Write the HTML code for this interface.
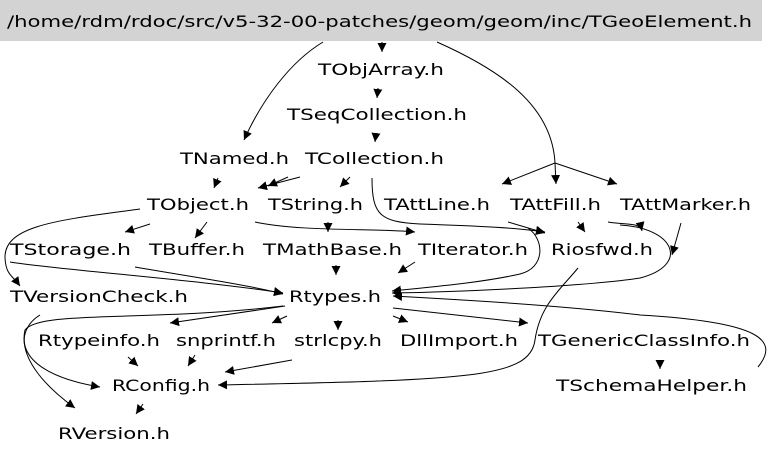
<!DOCTYPE html>
<html><head><meta charset="utf-8"><style>
html,body{margin:0;padding:0;background:#fff;}
svg{display:block;}
text{font-family:"DejaVu Sans","Liberation Sans",sans-serif;font-size:16px;fill:#000;}
path,line{fill:none;stroke:#000;stroke-width:1;}
</style></head><body>
<svg width="768" height="455" viewBox="0 0 768 455" xmlns="http://www.w3.org/2000/svg">
<defs><marker id="a" viewBox="0 0 10 10" refX="10" refY="5" markerWidth="9" markerHeight="9" markerUnits="userSpaceOnUse" orient="auto"><path d="M0,0 L10,5 L0,10 z" style="fill:#000;stroke:none"/></marker></defs>
<rect x="0" y="0" width="762" height="41" fill="#d3d3d3"/>
<text x="7" y="27" textLength="745" lengthAdjust="spacingAndGlyphs">/home/rdm/rdoc/src/v5-32-00-patches/geom/geom/inc/TGeoElement.h</text>
<g>
<text x="318" y="75" textLength="126" lengthAdjust="spacingAndGlyphs">TObjArray.h</text>
<text x="287" y="120" textLength="180" lengthAdjust="spacingAndGlyphs">TSeqCollection.h</text>
<text x="180" y="164" textLength="109" lengthAdjust="spacingAndGlyphs">TNamed.h</text>
<text x="305" y="164" textLength="139" lengthAdjust="spacingAndGlyphs">TCollection.h</text>
<text x="147" y="210" textLength="102" lengthAdjust="spacingAndGlyphs">TObject.h</text>
<text x="268" y="210" textLength="95" lengthAdjust="spacingAndGlyphs">TString.h</text>
<text x="384" y="210" textLength="106" lengthAdjust="spacingAndGlyphs">TAttLine.h</text>
<text x="510" y="210" textLength="91" lengthAdjust="spacingAndGlyphs">TAttFill.h</text>
<text x="620" y="210" textLength="131" lengthAdjust="spacingAndGlyphs">TAttMarker.h</text>
<text x="10" y="255" textLength="121" lengthAdjust="spacingAndGlyphs">TStorage.h</text>
<text x="149" y="255" textLength="96" lengthAdjust="spacingAndGlyphs">TBuffer.h</text>
<text x="263" y="255" textLength="139" lengthAdjust="spacingAndGlyphs">TMathBase.h</text>
<text x="418" y="255" textLength="110" lengthAdjust="spacingAndGlyphs">TIterator.h</text>
<text x="551" y="255" textLength="102" lengthAdjust="spacingAndGlyphs">Riosfwd.h</text>
<text x="10" y="302" textLength="178" lengthAdjust="spacingAndGlyphs">TVersionCheck.h</text>
<text x="289" y="302" textLength="92" lengthAdjust="spacingAndGlyphs">Rtypes.h</text>
<text x="38" y="346" textLength="122" lengthAdjust="spacingAndGlyphs">Rtypeinfo.h</text>
<text x="176" y="346" textLength="100" lengthAdjust="spacingAndGlyphs">snprintf.h</text>
<text x="294" y="346" textLength="88" lengthAdjust="spacingAndGlyphs">strlcpy.h</text>
<text x="400" y="346" textLength="118" lengthAdjust="spacingAndGlyphs">DllImport.h</text>
<text x="538" y="346" textLength="212" lengthAdjust="spacingAndGlyphs">TGenericClassInfo.h</text>
<text x="112" y="391" textLength="98" lengthAdjust="spacingAndGlyphs">RConfig.h</text>
<text x="556" y="391" textLength="191" lengthAdjust="spacingAndGlyphs">TSchemaHelper.h</text>
<text x="58" y="439" textLength="112" lengthAdjust="spacingAndGlyphs">RVersion.h</text>
</g>
<g marker-end="url(#a)">
<path d="M382,42 L382,52"/>
<path d="M323,42 C290,62 262,100 244,140"/>
<path d="M437,42 C500,70 552,105 555,163 L502,184"/>
<path d="M555,163 L556,184"/>
<path d="M555,163 L617,184"/>
<path d="M378,88 L377,98"/>
<path d="M376,133 L375,142"/>
<path d="M218,178 L214,188"/>
<path d="M300,177 L258,188"/>
<path d="M288,177 L268,186"/>
<path d="M350,177 L340,187"/>
<path d="M372,178 C372,215 380,222 420,224 C480,226 520,228 545,232"/>
<path d="M150,224 L125,232"/>
<path d="M207,222 L195,238"/>
<path d="M255,222 C300,232 380,228 415,232"/>
<path d="M140,209 C60,220 4,225 5,258 C6,275 12,275 20,286"/>
<path d="M10,262 C60,270 200,280 283,293"/>
<path d="M135,267 C180,275 250,285 283,294"/>
<path d="M328,222 L328,232"/>
<path d="M508,222 L545,233"/>
<path d="M578,222 L585,232"/>
<path d="M608,222 C625,225 640,222 642,231"/>
<path d="M415,262 L398,273"/>
<path d="M336,265 L336,275"/>
<path d="M528,228 C545,240 545,268 520,274 C480,283 430,287 392,291"/>
<path d="M620,225 C675,228 690,265 640,278 C580,287 450,292 392,293"/>
<path d="M681,223 L672,255"/>
<path d="M578,268 C560,290 540,305 535,340 C530,378 470,380 218,385"/>
<path d="M285,306 L170,323"/>
<path d="M287,316 L272,323"/>
<path d="M338,320 L338,330"/>
<path d="M393,316 L408,322"/>
<path d="M393,308 L528,323"/>
<path d="M283,306 C150,322 40,310 25,330 C18,360 50,390 75,408"/>
<path d="M40,315 C15,330 10,372 100,387"/>
<path d="M128,357 L138,366"/>
<path d="M195,355 L188,366"/>
<path d="M292,360 L225,372"/>
<path d="M143,404 L136,414"/>
<path d="M660,360 L660,369"/>
<path d="M758,367 C780,340 760,322 640,315 C560,305 450,299 393,296"/>
</g>
</svg>
</body></html>
